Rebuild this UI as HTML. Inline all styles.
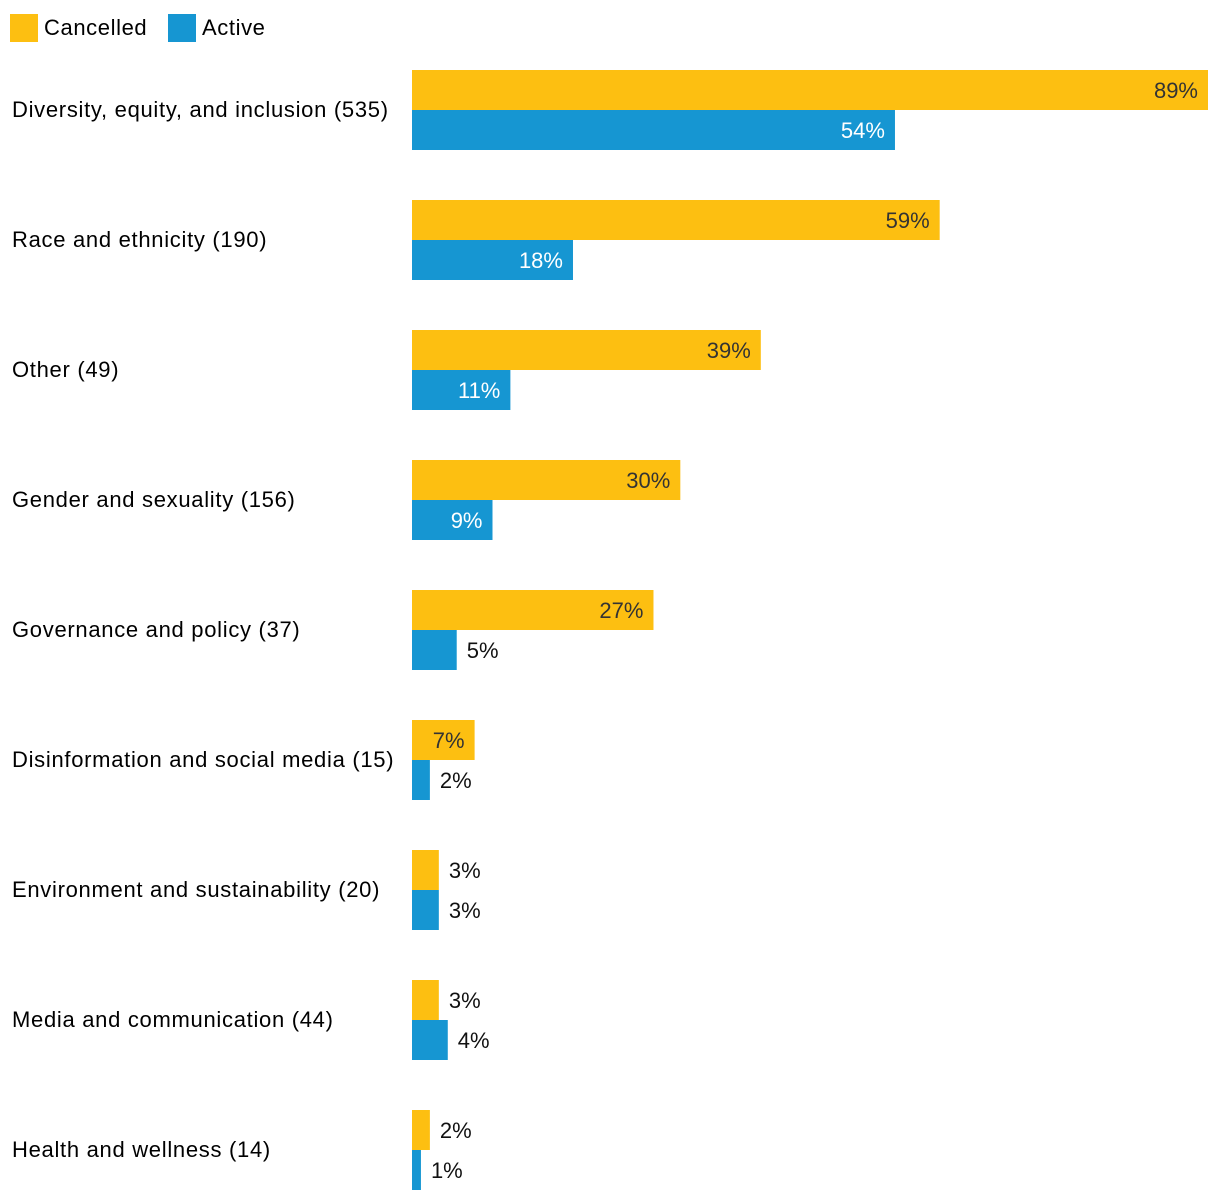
<!DOCTYPE html>
<html><head><meta charset="utf-8"><style>
html,body{margin:0;padding:0;background:#fff;}
svg{display:block;font-family:"Liberation Sans",sans-serif;}
</style></head><body>
<svg id="chart" width="1220" height="1200" viewBox="0 0 1220 1200" xmlns="http://www.w3.org/2000/svg">
<g>
<rect x="10" y="14" width="28" height="28" fill="#FDBF11"/>
<text x="44" y="35" font-size="22" letter-spacing="0.6" fill="#000">Cancelled</text>
<rect x="168" y="14" width="28" height="28" fill="#1696D2"/>
<text x="202" y="35" font-size="22" letter-spacing="0.6" fill="#000">Active</text>
</g>
</svg>
<script>
const categories = ["Diversity, equity, and inclusion (535)","Race and ethnicity (190)","Other (49)","Gender and sexuality (156)","Governance and policy (37)","Disinformation and social media (15)","Environment and sustainability (20)","Media and communication (44)","Health and wellness (14)"];
const cancelled = [89,59,39,30,27,7,3,3,2];
const active = [54,18,11,9,5,2,3,4,1];
const NS = "http://www.w3.org/2000/svg";
const svg = document.getElementById("chart");
const x0 = 412, pxPer = 796/89, top0 = 70, step = 130, bh = 40;
const xScale = v => v * pxPer;
function mk(tag, attrs){const e=document.createElementNS(NS,tag);for(const k in attrs)e.setAttribute(k,attrs[k]);return e;}
categories.forEach((c,i)=>{
  const y = top0 + i*step;
  const lab = mk("text",{x:12,y:y+bh+7,"font-size":22,"letter-spacing":"0.7",fill:"#000"});
  
  
  lab.textContent = c; svg.appendChild(lab);
  [[cancelled[i],"#FDBF11","#333","cancelled"],[active[i],"#1696D2","#fff","active"]].forEach((s,j)=>{
    const w = xScale(s[0]), by = y + j*bh;
    const r = mk("rect",{x:x0,y:by,width:w,height:bh,fill:s[1]});
    
    
    svg.appendChild(r);
    const inside = w > 50;
    const t = mk("text",{x: inside ? x0+w-10 : x0+w+10, y: by+28, "font-size":22, fill: inside ? s[2] : "#111", "text-anchor": inside ? "end" : "start"});
    
    
    t.textContent = s[0] + "%"; svg.appendChild(t);
  });
});
</script>
</body></html>
